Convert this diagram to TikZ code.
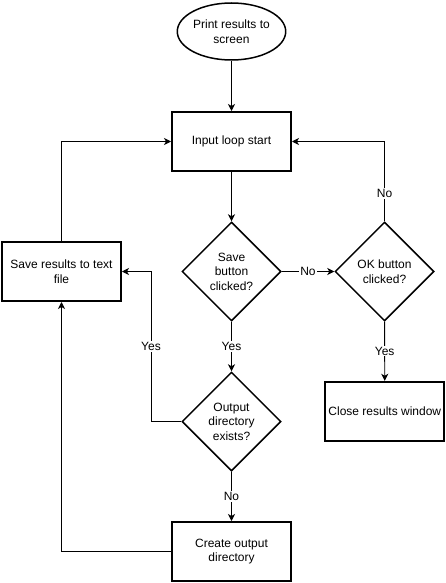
\documentclass[tikz,border=0pt]{standalone}
\usepackage{fontspec}
\setmainfont{Liberation Sans}
\usetikzlibrary{shapes.geometric,arrows.meta}
\begin{document}
\begin{tikzpicture}[x=1pt,y=-1pt,
  every node/.style={font=\fontsize{12}{14.5}\selectfont, align=center},
  box/.style={draw=black, line width=2pt, minimum width=119pt, minimum height=59pt, inner sep=1pt},
  term/.style={draw=black, line width=1.5pt, ellipse, minimum width=99pt, minimum height=57pt, inner sep=0pt},
  decision/.style={draw=black, line width=1.5pt, diamond, aspect=1, minimum width=99pt, minimum height=99pt, inner sep=0pt},
  conn/.style={draw=black, line width=0.9pt, -{Stealth[length=7pt,width=7pt,inset=2pt]}},
  lbl/.style={fill=white, inner sep=1pt}
]
\useasboundingbox (0,0) rectangle (446,583);
\node[term] (print) at (231.5,31.5) {Print results to\\screen};
\node[box] (input) at (231.5,141.5) {Input loop start};
\node[decision] (save) at (231.5,271.5) {Save\\button\\clicked?};
\node[decision] (ok) at (384.5,271.5) {OK button\\clicked?};
\node[box] (savefile) at (61.5,271.5) {Save results to text\\file};
\node[decision] (outdir) at (231.5,421.5) {Output\\directory\\exists?};
\node[box] (close) at (384.8,411.3) {Close results window};
\node[box] (create) at (231.5,551.5) {Create output\\directory};
\coordinate (okup) at (384.5,141.5);
\coordinate (ydl) at (151,421.5);
\coordinate (ydu) at (151,271.5);
\coordinate (cl) at (61.5,551.5);
\coordinate (su) at (61.5,141.5);

\draw[conn] (print) -- (input);
\draw[conn] (input) -- (save);
\draw[conn] (save) -- node[lbl] {No} (ok);
\draw[conn] (ok.north) -- node[lbl, pos=0.35] {No} (okup) -- (input.east);
\draw[conn] (ok) -- node[lbl] {Yes} (close);
\draw[conn] (save) -- node[lbl] {Yes} (outdir);
\draw[conn] (outdir.west) -- (ydl) -- node[lbl] {Yes} (ydu) -- (savefile.east |- ydu);
\draw[conn] (outdir) -- node[lbl] {No} (create);
\draw[conn] (create.west) -- (cl) -- (savefile.south);
\draw[conn] (savefile.north) -- (su) -- (input.west);
\end{tikzpicture}
\end{document}
